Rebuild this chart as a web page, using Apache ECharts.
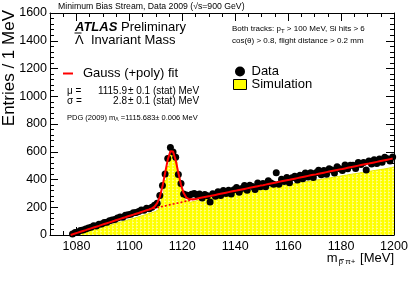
<!DOCTYPE html>
<html><head><meta charset="utf-8">
<script src="https://cdn.jsdelivr.net/npm/echarts@6/dist/echarts.min.js"></script>
<style>html,body{margin:0;padding:0;background:#fff}#c{width:415px;height:281px}</style>
</head><body><div id="c"></div>
<script>
// 1 MeV bins, first bin low edge
const binStart = 1078;
// Data counts per bin (1078..1199)
const dataCounts = [
  8,18,22,32,36,44,50,55,66,64,78,80,90,92,102,108,112,122,130,128,142,146,150,160,162,170,180,178,192,190,
  200,214,228,284,356,440,552,630,598,560,436,372,296,288,284,294,
  300,290,296,266,292,282,238,297,279,311,
  285,321,299,323,295,327,342,309,336,357,
  322,358,349,328,374,348,371,347,391,374,
  365,449,365,402,385,415,376,412,424,396,
  430,406,446,418,449,414,449,467,435,464,
  438,477,469,447,491,478,464,504,478,502,
  502,480,522,508,523,468,533,511,543,515,
  547,525,561,549,533,563
];
// Simulation histogram per bin (1078..1199)
const simCounts = [
  2,8,13,18,22,27,33,38,42,48,52,58,63,68,73,79,84,90,95,100,106,112,117,122,128,134,140,146,152,158,
  164,170,183,222,296,392,494,578,588,528,430,340,276,246,236,240,
  245,250,253,258,262,266,269,274,277,281,
  285,288,291,294,297,301,304,306,310,313,
  316,319,323,326,328,332,335,338,342,344,
  347,351,353,357,360,364,366,369,372,376,
  379,381,385,388,391,395,397,400,404,406,
  410,413,416,419,422,425,429,431,435,438,
  441,444,447,451,454,456,460,463,466,469,
  472,475,478,482,485,490
];
// Gauss(+poly) fit at bin centres (1078.5..1199.5)
const fitThreshold = [1077.8, 0];
const fitValues = [
  4,11,17,23,29,35,42,48,54,60,66,73,79,85,91,97,104,110,116,122,128,135,141,147,153,159,166,172,178,184,
  192,204,230,275,349,447,543,604,601,539,448,362,302,270,258,257,
  258,262,266,270,274,278,281,285,289,293,
  297,301,305,309,313,317,320,324,328,332,
  336,340,344,348,352,356,359,363,367,371,
  375,379,383,387,391,395,398,402,406,410,
  414,418,422,426,430,434,437,441,445,449,
  453,457,461,465,469,473,476,480,484,488,
  492,496,500,504,508,512,515,519,523,527,
  531,535,539,543,547,551
];
// Background (poly) part under the peak, bin centres 1107.5..1124.5
const bkgStart = 1107;
const bkgValues = [184,189,193,198,202,206,210,214,219,223,227,231,235,240,244,248,253,258];
const xMajorTicks = [1080,1100,1120,1140,1160,1180,1200];

const dataPts = dataCounts.map((v,i)=>[binStart+i+0.5, v]);
const simPts = simCounts.map((v,i)=>[binStart+i, v]);
simPts.push([binStart+simCounts.length, simCounts[simCounts.length-1]]);
const fitPts = [fitThreshold].concat(fitValues.map((v,i)=>[binStart+i+0.5, v]));
const bkgPts = bkgValues.map((v,i)=>[bkgStart+i+0.5, v]);

// yellow fill with faint white dotted texture
const tile = document.createElement('canvas');
tile.width = 4; tile.height = 3;
const tc = tile.getContext('2d');
tc.fillStyle = '#ffff00'; tc.fillRect(0,0,4,3);
tc.fillStyle = 'rgba(255,255,255,0.55)'; tc.fillRect(0,0,2,1);
tc.fillStyle = 'rgba(255,255,255,0.3)'; tc.fillRect(0,1,1,2);
const yellowPattern = {image: tile, repeat: 'repeat'};

const FONT = 'Liberation Sans';
const chart = echarts.init(document.getElementById('c'), null, {renderer:'canvas'});
function xAx(pos, major, labels){
  return {type:'value', position:pos, min:1070, max:1200,
    interval: major ? undefined : 5,
    axisLine: {show: major, onZero:false, lineStyle:{color:'#000', width:1}},
    axisTick: major ? {show:true, inside:true, length:8, customValues:xMajorTicks, lineStyle:{color:'#000'}}
                    : {show:true, inside:true, length:4, lineStyle:{color:'#000'}},
    axisLabel: labels ? {show:true, customValues:xMajorTicks, color:'#000', fontFamily:FONT, fontSize:12.5, margin:5, formatter:v=>String(v)} : {show:false},
    splitLine:{show:false}};
}
function yAx(pos, major, labels){
  return {type:'value', position:pos, min:0, max:1600,
    interval: major ? 200 : 40,
    axisLine: {show: major, onZero:false, lineStyle:{color:'#000', width:1}},
    axisTick: {show:true, inside:true, length: major?8:4, lineStyle:{color:'#000'}},
    axisLabel: labels ? {show:true, color:'#000', fontFamily:FONT, fontSize:12.5, margin:3, formatter:v=>String(v)} : {show:false},
    splitLine:{show:false}};
}
const option = {
  animation:false,
  grid:{left:50, right:21, top:13, bottom:46, containLabel:false},
  xAxis:[xAx('bottom',true,true), xAx('bottom',false,false), xAx('top',true,false), xAx('top',false,false)],
  yAxis:[yAx('left',true,true), yAx('left',false,false), yAx('right',true,false), yAx('right',false,false)],
  legend:[
    {orient:'vertical', left:228, top:60, itemGap:0, itemWidth:13, itemHeight:10,
     textStyle:{fontFamily:FONT, fontSize:13, color:'#000'},
     data:[{name:'Data', icon:'circle'},{name:'Simulation', icon:'rect', itemStyle:{color:'#ffff00', borderColor:'#000', borderWidth:1}}]},
    {left:58, top:62, itemWidth:10, itemHeight:2, itemGap:4,
     textStyle:{fontFamily:FONT, fontSize:13, color:'#000', padding:[0,0,0,5]},
     data:[{name:'Gauss (+poly) fit', icon:'rect'}]}
  ],
  series:[
    {name:'Simulation', type:'line', step:'end', data:simPts, symbol:'none',
     lineStyle:{color:'#e8e800', width:1}, itemStyle:{color:'#ffff00'},
     areaStyle:{color:yellowPattern, opacity:1}, z:1},
    {name:'Data', type:'scatter', data:dataPts, symbol:'circle', symbolSize:7, itemStyle:{color:'#000', opacity:1}, z:3},
    {name:'bkg', type:'line', data:bkgPts, symbol:'none', lineStyle:{color:'#ff0000', width:1.6, type:[2,2]}, z:4},
    {name:'Gauss (+poly) fit', type:'line', data:fitPts, symbol:'none', lineStyle:{color:'#ff0000', width:2}, itemStyle:{color:'#ff0000'}, z:5}
  ],
  graphic:[
    {type:'text', left:58, top:2, style:{text:'Minimum Bias Stream, Data 2009 (√s=900 GeV)', font:'8.7px "Liberation Sans"', fill:'#000'}},
    {type:'text', left:75, top:21, style:{text:'{b|ATLAS} {n|Preliminary}', font:'13px "Liberation Sans"', fill:'#000',
      rich:{b:{fontFamily:FONT, fontSize:13, fontWeight:'bold', fontStyle:'italic'}, n:{fontFamily:FONT, fontSize:13}}}},
    {type:'text', left:75, top:34, style:{text:'Λ  Invariant Mass', font:'13px "Liberation Sans"', fill:'#000'}},
    {type:'line', shape:{x1:74.5, y1:33, x2:81.5, y2:33}, style:{stroke:'#000', lineWidth:1}, z:100},
    {type:'text', left:232, top:25, style:{text:'Both tracks: p{s|T} > 100 MeV, Si hits > 6', font:'8px "Liberation Sans"', fill:'#000',
      rich:{s:{fontFamily:FONT, fontSize:6, padding:[5,0,0,0]}}}},
    {type:'text', left:232, top:37, style:{text:'cos(θ) > 0.8, flight distance > 0.2 mm', font:'8px "Liberation Sans"', fill:'#000'}},
    {type:'text', left:67, top:86, style:{text:'μ =', font:'10px "Liberation Sans"', fill:'#000'}},
    {type:'text', x:127, y:86, style:{text:'1115.9', font:'10px "Liberation Sans"', fill:'#000', align:'right'}},
    {type:'text', left:128, top:86, style:{text:'± 0.1 (stat) MeV', font:'10px "Liberation Sans"', fill:'#000'}},
    {type:'text', left:67, top:96, style:{text:'σ =', font:'10px "Liberation Sans"', fill:'#000'}},
    {type:'text', x:127, y:96, style:{text:'2.8', font:'10px "Liberation Sans"', fill:'#000', align:'right'}},
    {type:'text', left:128, top:96, style:{text:'± 0.1 (stat) MeV', font:'10px "Liberation Sans"', fill:'#000'}},
    {type:'text', left:67, top:114, style:{text:'PDG (2009) m{s|Λ} =1115.683± 0.006 MeV', font:'7.5px "Liberation Sans"', fill:'#000',
      rich:{s:{fontFamily:FONT, fontSize:5, padding:[4,0,0,0]}}}},
    {type:'text', right:21, top:252, style:{text:'m{s|p π+} [MeV]', font:'13px "Liberation Sans"', fill:'#000',
      rich:{s:{fontFamily:FONT, fontSize:8, padding:[7,1,0,1]}}}},
    {type:'line', shape:{x1:339.5, y1:259.5, x2:344, y2:259.5}, style:{stroke:'#000', lineWidth:0.8}, z:100},
    {type:'text', x:9.5, y:10, rotation:Math.PI/2, style:{text:'Entries / 1 MeV', font:'17px "Liberation Sans"', fill:'#000', align:'right', verticalAlign:'middle'}}
  ]
};
chart.setOption(option);
</script></body></html>
